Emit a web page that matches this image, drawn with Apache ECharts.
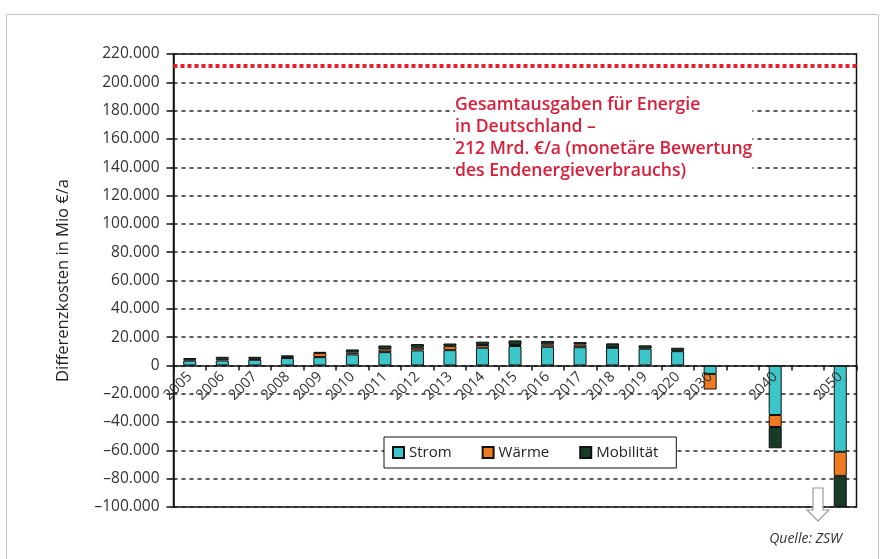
<!DOCTYPE html>
<html>
<head>
<meta charset="utf-8">
<script src="https://cdn.jsdelivr.net/npm/echarts@6/dist/echarts.min.js"></script>
<style>
  html, body { margin: 0; padding: 0; background: #fff; }
  #chart { width: 882px; height: 559px; }
</style>
</head>
<body>
<div id="chart"></div>
<script>
// Jahre (leere Einträge halten den Abstand zwischen 2030, 2040 und 2050)
const categories = ['2005', '2006', '2007', '2008', '2009', '2010', '2011', '2012',
  '2013', '2014', '2015', '2016', '2017', '2018', '2019', '2020', '2030', '', '2040', '', '2050'];

// Differenzkosten in Mio €/a je Sektor
const strom = [3400, 3500, 4000, 5200, 5900, 7800, 9400, 10600,
  10800, 12500, 13700, 13200, 12900, 12500, 11800, 10100, -6000, null, -35000, null, -61000];
const waerme = [1000, 1200, 700, 900, 2800, 1400, 1900, 1900,
  2800, 1900, 700, 1700, 1900, 300, null, null, -11000, null, -8500, null, -17000];
const mobilitaet = [800, 1400, 1400, 1000, 900, 2100, 2800, 2600,
  1900, 2400, 3300, 2400, 1700, 2800, 2400, 2400, null, null, -15000, null, -22000];

// Gesamtausgaben für Energie in Deutschland (Mio €/a)
const gesamtausgaben = 212000;

const yMin = -100000;
const yMax = 220000;
const yStep = 20000;

const noteLines = [
  'Gesamtausgaben für Energie',
  'in Deutschland –',
  '212 Mrd. €/a (monetäre Bewertung',
  'des Endenergieverbrauchs)'
];

const FONT = '"Open Sans", "Noto Sans", sans-serif';

function formatDe(v) {
  if (v === 0) return '0';
  const s = String(Math.abs(v)).replace(/\B(?=(\d{3})+(?!\d))/g, '.');
  return (v < 0 ? '–' : '') + s;
}

function barSeries(name, data, color) {
  return {
    name: name,
    type: 'bar',
    stack: 'kosten',
    data: data,
    barWidth: 13,
    z: 2,
    itemStyle: { color: color, borderColor: '#111', borderWidth: 1 },
    emphasis: { disabled: true }
  };
}

const chart = echarts.init(document.getElementById('chart'));

const series = [
  barSeries('Strom', strom, '#3cc6c9'),
  barSeries('Wärme', waerme, '#f07a22'),
  barSeries('Mobilität', mobilitaet, '#173b28')
];
series[0].markLine = {
  silent: true,
  symbol: 'none',
  label: { show: false },
  lineStyle: { color: '#e8202c', width: 4, type: [4, 3], cap: 'butt' },
  data: [{ yAxis: gesamtausgaben }]
};

chart.setOption({
  animation: false,
  backgroundColor: '#fff',
  textStyle: { fontFamily: FONT },
  grid: {
    left: 173.5, right: 25.5, top: 54, bottom: 52,
    show: true, borderColor: '#111', borderWidth: 1.5, backgroundColor: 'transparent'
  },
  legend: {
    left: 384,
    top: 437,
    padding: [8, 18, 8, 8],
    itemGap: 30,
    itemWidth: 11,
    itemHeight: 11,
    icon: 'rect',
    backgroundColor: '#fff',
    borderColor: '#111',
    borderWidth: 1,
    textStyle: { fontFamily: FONT, fontSize: 15, color: '#222' },
    selectedMode: false,
    data: ['Strom', 'Wärme', 'Mobilität']
  },
  xAxis: {
    type: 'category',
    data: categories,
    position: 'bottom',
    offset: 0,
    z: 10,
    axisLine: { onZero: false, lineStyle: { color: '#111', width: 1.5 } },
    axisTick: { show: true, length: 5, lineStyle: { color: '#111', width: 1.5 } },
    axisLabel: {
      interval: 0,
      rotate: 45,
      margin: 9,
      fontFamily: FONT,
      fontSize: 14.5,
      color: '#333'
    },
    splitLine: { show: false }
  },
  yAxis: {
    type: 'value',
    min: yMin,
    max: yMax,
    interval: yStep,
    name: 'Differenzkosten in Mio €/a',
    nameLocation: 'middle',
    nameGap: 102,
    nameTextStyle: { fontFamily: FONT, fontSize: 16.5, color: '#222' },
    axisLine: { show: true, lineStyle: { color: '#111', width: 1.5 } },
    axisTick: { show: true, length: 7, lineStyle: { color: '#111', width: 1.5 } },
    axisLabel: {
      margin: 14,
      fontFamily: FONT,
      fontSize: 15.5,
      color: '#333',
      formatter: formatDe
    },
    splitLine: { show: true, lineStyle: { color: '#222', width: 1.5, type: [4, 4] } }
  },
  series: series,
  graphic: [
    {
      type: 'rect',
      silent: true,
      z: -10,
      shape: { x: 6.5, y: 14.5, width: 872, height: 560 },
      style: { fill: 'none', stroke: '#c4c4c4', lineWidth: 1 }
    },
    {
      type: 'text',
      silent: true,
      left: 455,
      top: 94,
      z: 10,
      style: {
        text: noteLines.join('\n'),
        fontFamily: FONT,
        fontSize: 17.6,
        fontWeight: 600,
        lineHeight: 22,
        fill: '#d7203c',
        backgroundColor: '#fff'
      }
    },
    {
      type: 'polygon',
      silent: true,
      z: 10,
      shape: {
        points: [[813, 488], [823, 488], [823, 510], [829, 510], [818, 521], [807, 510], [813, 510]]
      },
      style: { fill: '#fff', stroke: '#9a9a9a', lineWidth: 1.2 }
    },
    {
      type: 'text',
      silent: true,
      right: 40,
      top: 532,
      style: {
        text: 'Quelle: ZSW',
        fontFamily: FONT,
        fontSize: 14,
        fontStyle: 'italic',
        fill: '#333'
      }
    }
  ]
});

// Kategorienachse auf die Nulllinie der Werteachse legen
const zeroY = chart.convertToPixel({ yAxisIndex: 0 }, 0);
const bottomY = chart.convertToPixel({ yAxisIndex: 0 }, yMin);
chart.setOption({ xAxis: { offset: zeroY - bottomY } });
</script>
</body>
</html>
